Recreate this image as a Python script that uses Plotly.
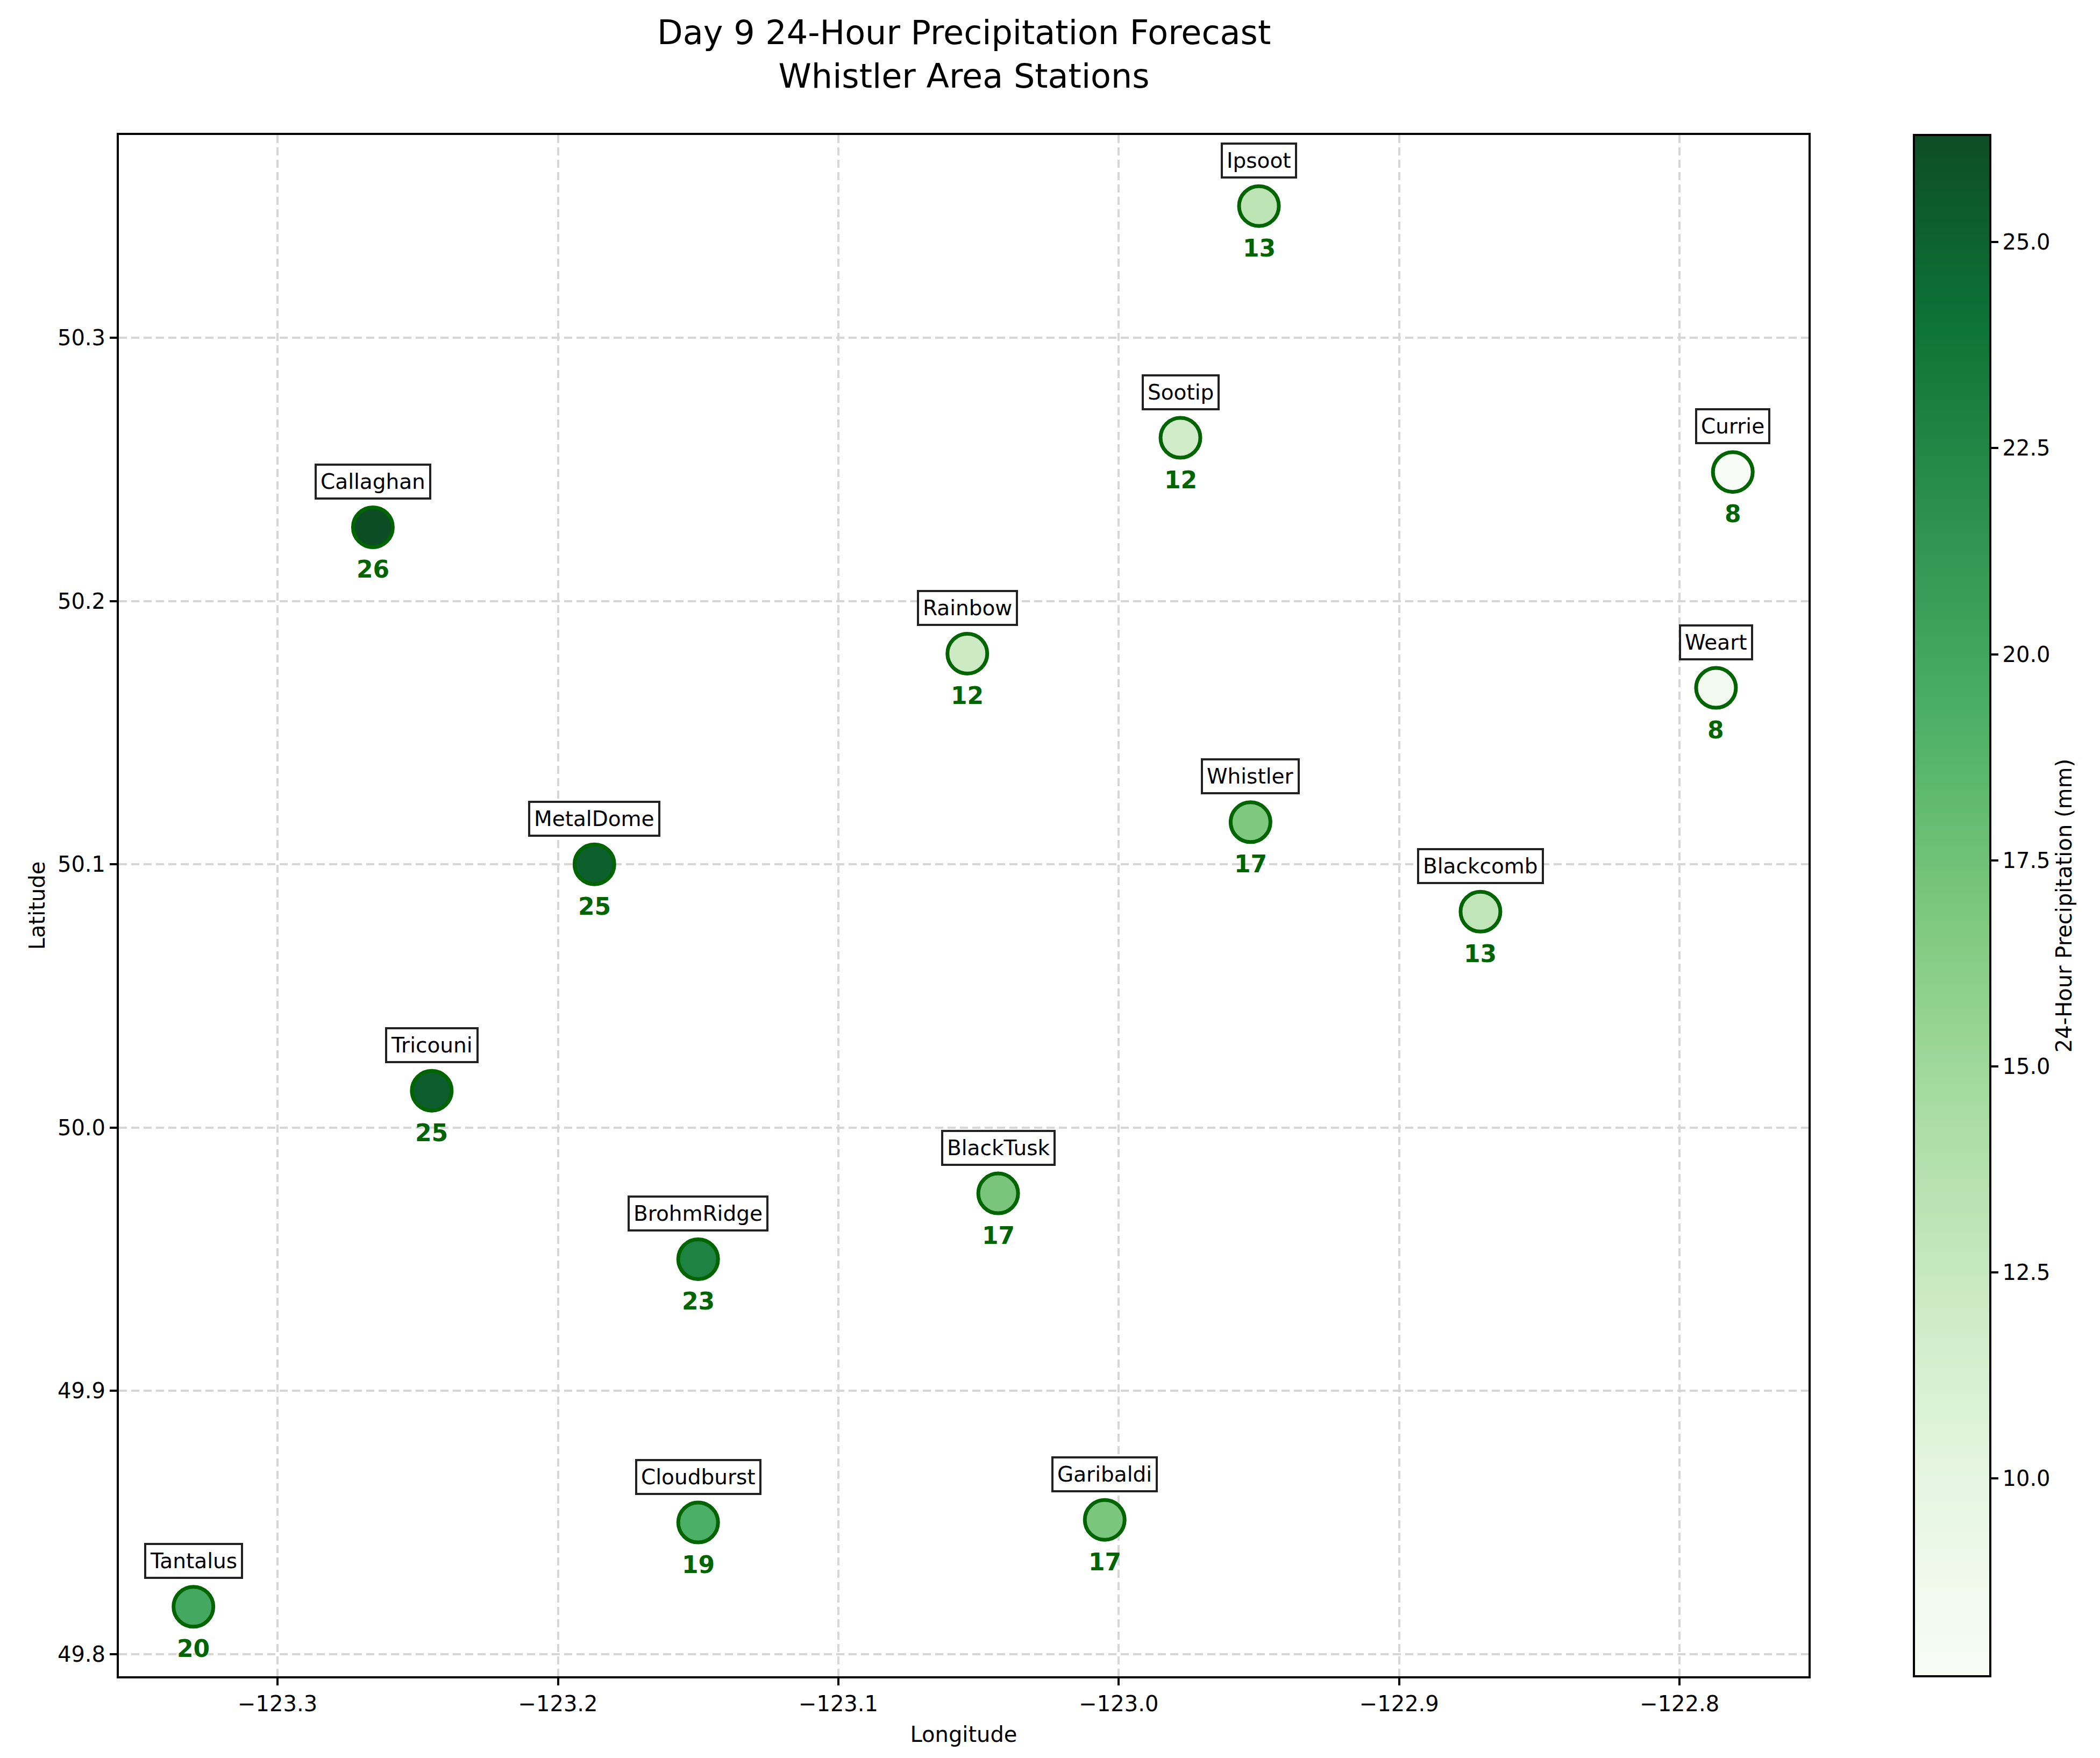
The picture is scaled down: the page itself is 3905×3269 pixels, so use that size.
import plotly.graph_objects as go

# station data
stations = ["Ipsoot", "Sootip", "Currie", "Callaghan", "Rainbow", "Weart", "Whistler",
            "MetalDome", "Blackcomb", "Tricouni", "BlackTusk", "BrohmRidge",
            "Cloudburst", "Garibaldi", "Tantalus"]
lons = [-122.950, -122.978, -122.781, -123.266, -123.054, -122.787, -122.953,
        -123.187, -122.871, -123.245, -123.043, -123.150, -123.150, -123.005, -123.330]
lats = [50.350, 50.262, 50.249, 50.228, 50.180, 50.167, 50.116,
        50.100, 50.082, 50.014, 49.975, 49.950, 49.850, 49.851, 49.818]
precip = [13.2, 11.8, 7.6, 26.3, 12.1, 8.3, 16.8,
          25.2, 13.0, 25.4, 17.1, 22.8, 19.3, 17.0, 19.8]

# matplotlib "Greens", drawn slightly transparent over white
greens = ["#f7fcf5", "#e5f5e0", "#c7e9c0", "#a1d99b", "#74c476",
          "#41ab5d", "#238b45", "#006d2c", "#00441b"]


def soften(hexcol, a=0.95):
    r, g, b = (int(hexcol[i:i + 2], 16) for i in (1, 3, 5))
    return "rgb({:.0f},{:.0f},{:.0f})".format(*(c * a + 255 * (1 - a) for c in (r, g, b)))


cscale = [[i / (len(greens) - 1), soften(c)] for i, c in enumerate(greens)]

FONT = "DejaVu Sans"

fig = go.Figure(go.Scatter(
    x=lons, y=lats, mode="markers",
    marker=dict(
        size=74, color=precip, colorscale=cscale,
        cmin=min(precip), cmax=max(precip),
        line=dict(color="#006400", width=7),
        colorbar=dict(
            title=dict(text="24-Hour Precipitation (mm)", side="right",
                       font=dict(size=40, family=FONT, color="black")),
            x=1.0624, xanchor="left", xref="paper", xpad=0,
            y=0.5, yanchor="middle", len=1.0, lenmode="fraction", ypad=0,
            thickness=142, outlinecolor="black", outlinewidth=4,
            tick0=10, dtick=2.5, tickformat=".1f",
            ticks="outside", ticklen=13, tickwidth=4, tickcolor="black",
            tickfont=dict(size=40, family=FONT, color="black"),
        ),
    ),
    hoverinfo="skip", showlegend=False,
))

annotations = [dict(
    text="Day 9 24-Hour Precipitation Forecast<br>Whistler Area Stations",
    x=0.5, y=1.0525, xref="paper", yref="paper", xanchor="center", yanchor="middle",
    showarrow=False, font=dict(size=62, family=FONT, color="black"),
)]
for name, lo, la, v in zip(stations, lons, lats, precip):
    annotations.append(dict(
        x=lo, y=la, text=name, showarrow=False, yshift=85,
        font=dict(size=39, family=FONT, color="black"),
        bgcolor="white", bordercolor="#222222", borderwidth=4, borderpad=7,
    ))
    annotations.append(dict(
        x=lo, y=la, text=f"<b>{v:.0f}</b>", showarrow=False, yshift=-78,
        font=dict(size=44, family=FONT, color="#006400"),
    ))

axis_common = dict(
    showline=True, linecolor="black", linewidth=4, mirror=True,
    ticks="outside", ticklen=13, tickwidth=4, tickcolor="black",
    tickfont=dict(size=40, family=FONT, color="black"),
    showgrid=True, gridcolor="#d6d6d6", gridwidth=4, griddash="15px,8px",
    zeroline=False, automargin=False, tickformat=".1f",
)

fig.update_layout(
    width=3905, height=3269,
    margin=dict(l=213, r=550, t=243, b=160),
    paper_bgcolor="white", plot_bgcolor="white",
    font=dict(family=FONT, color="black"),
    xaxis=dict(range=[-123.3566, -122.754], dtick=0.1, tick0=-123.3,
               title=dict(text="Longitude", standoff=22,
                          font=dict(size=40, family=FONT, color="black")),
               **axis_common),
    yaxis=dict(range=[49.7916, 50.377], dtick=0.1, tick0=49.8,
               title=dict(text="Latitude", standoff=12,
                          font=dict(size=40, family=FONT, color="black")),
               **axis_common),
    annotations=annotations,
)

fig.write_html("out.html")
